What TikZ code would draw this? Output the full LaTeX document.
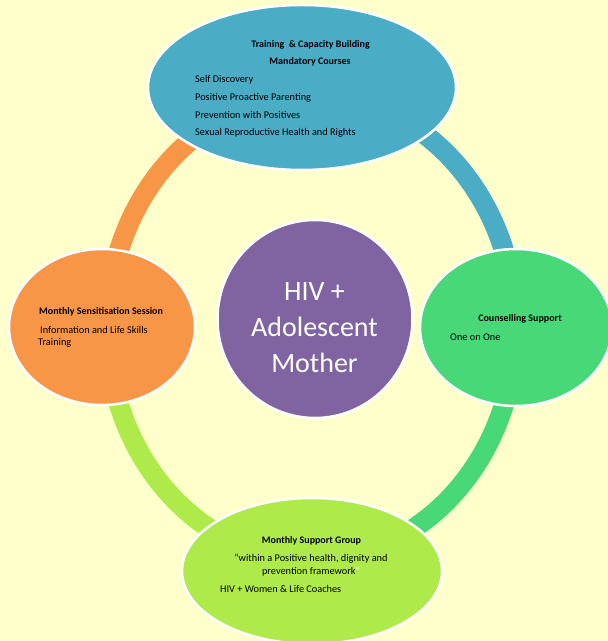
\documentclass[tikz,border=0pt]{standalone}
\usepackage{fontspec}
\setmainfont{Carlito}
\usetikzlibrary{shapes.geometric}
\usepackage{xcolor}
\definecolor{bgyellow}{HTML}{FFFFCC}
\definecolor{tealblue}{HTML}{4BACC6}
\definecolor{sunorange}{HTML}{F79646}
\definecolor{leafgreen}{HTML}{48D877}
\definecolor{limegreen}{HTML}{AEEA4A}
\definecolor{plum}{HTML}{8064A2}
\tikzstyle{blob}=[ellipse,draw=white,line width=2.5pt,inner sep=0]
\tikzstyle{ring}=[line width=20pt]
\tikzstyle{head}=[inner sep=0,font=\fontsize{10}{12}\selectfont\bfseries]
\tikzstyle{item}=[inner sep=0,anchor=west,font=\fontsize{10.3}{12}\selectfont]

\begin{document}
\begin{tikzpicture}[x=1pt, y=1pt]

\useasboundingbox (0,0) rectangle (608,641);
\fill[bgyellow] (0,0) rectangle (608,641);
\clip (0,0) rectangle (608,641);

% the ring, one arc per quarter
\coordinate (hub) at (311.5,313.5);
\foreach \c/\a [count=\i] in {sunorange/180,tealblue/90,leafgreen/0,limegreen/-90}
  \draw [ring, \c] (hub) ++(\a:204 and 232)
    arc [start angle=\a, end angle=\a-90, x radius=204, y radius=232];

% outer ellipses
\node [blob, fill=tealblue, minimum width=308, minimum height=165] (train) at (302,553.5) {};
\node [blob, fill=sunorange, minimum width=186, minimum height=156] (sens) at (102,314) {};
\node [blob, fill=leafgreen, minimum width=192, minimum height=157] (couns) at (516,313.5) {};
\node [blob, fill=limegreen, minimum width=260, minimum height=146] (group) at (312,70) {};

% centre
\node [blob, fill=plum, minimum width=195, minimum height=198] (mother) at (315,322) {};
\node [align=center, text=white, font=\fontsize{28}{36}\selectfont] (mother-t) at (314.5,313)
  {HIV +\\Adolescent\\Mother};

% top: training
\node [head] (train-h1) at (310.5,596) {Training\ \ \& Capacity Building};
\node [head] (train-h2) at (310,579) {Mandatory Courses};
\foreach \l [count=\i] in {Self Discovery, Positive Proactive Parenting,
    Prevention with Positives, Sexual Reproductive Health and Rights}
  \node [item] (train-\i) at (195,579-\i*17.7) {\l};

% left: sensitisation
\node [head, anchor=west] (sens-h) at (39,329) {Monthly Sensitisation Session};
\node [item] (sens-1) at (40,311) {Information and Life Skills};
\node [item] (sens-2) at (38,298) {Training};

% right: counselling
\node [head] (couns-h) at (520,322) {Counselling Support};
\node [item] (couns-1) at (450,304) {One on One};

% bottom: support group
\node [head] (group-h) at (311.5,100) {Monthly Support Group};
\node [inner sep=0, align=center, font=\fontsize{10.3}{13}\selectfont] (group-1) at (311,76)
  {“within a Positive health, dignity and\\prevention framework\textcolor{white}{”}};
\node [item] (group-2) at (220,52) {HIV + Women \& Life Coaches};

\end{tikzpicture}
\end{document}
